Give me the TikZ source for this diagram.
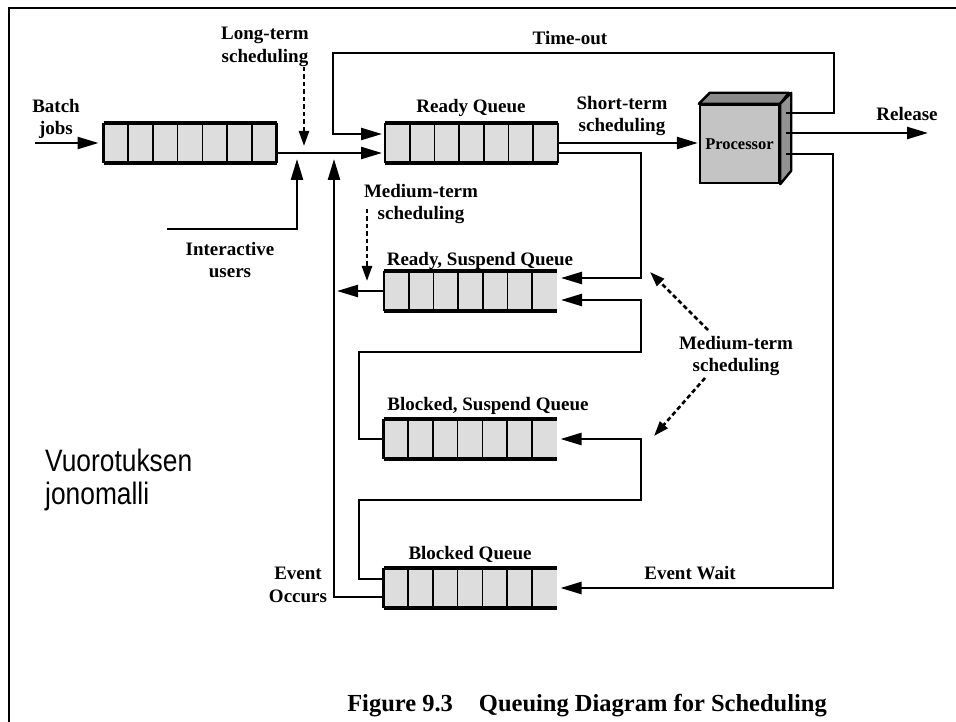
\documentclass[tikz,border=0pt]{standalone}
\usepackage{fontspec}
\setmainfont{Liberation Serif}
\newfontfamily\sansfnt{Liberation Sans}
\usetikzlibrary{arrows.meta,calc}
\definecolor{qfill}{RGB}{221,221,221}
\definecolor{pfront}{RGB}{196,196,196}
\definecolor{ptop}{RGB}{138,138,138}
\definecolor{pside}{RGB}{146,146,146}
\tikzset{
 lbl/.style={font=\bfseries\fontsize{19}{22.5}\selectfont, align=center, inner sep=0pt, anchor=north},
 conn/.style={line width=2.4pt},
 arr/.style={conn, -{Triangle[length=21pt,width=12pt]}},
 sched/.style={line width=2.6pt, dash pattern=on 4.5pt off 3pt, -{Triangle[length=15pt,width=10pt]}},
 queue/.style={minimum width=173pt, minimum height=40pt, inner sep=0pt, outer sep=0pt, fill=qfill, draw=none},
}
\newcommand\qbody[2]{%
 \foreach \i in {1,...,6}{\draw[line width=1.6pt] ($(#1.north west)!\i/7!(#1.north east)$) -- ($(#1.south west)!\i/7!(#1.south east)$);}
 \draw[line width=3.2pt] (#1.north west) -- (#1.north east);
 \draw[line width=3.2pt] (#1.south west) -- (#1.south east);
 \draw[line width=2.2pt] (#1.north west) -- (#1.south west);
 \ifnum#2=1 \draw[line width=2.2pt] (#1.north east) -- (#1.south east);\fi
}
\begin{document}
\begin{tikzpicture}[x=1pt,y=-1pt]
\useasboundingbox (0,0) rectangle (956,722);
\draw[line width=2.6pt] (9,722) -- (9,8) -- (956,8);

% queues
\node[queue] (bq) at (190,143) {};
\node[queue] (rq) at (471.5,143) {};
\node[queue] (rs) at (470.5,291) {};
\node[queue] (bs) at (470,439) {};
\node[queue] (bl) at (470,588) {};
\qbody{bq}{1}
\qbody{rq}{1}
\qbody{rs}{0}
\qbody{bs}{0}
\qbody{bl}{0}

% queue labels
\node[lbl] (rql) at (471,99) {Ready Queue};
\node[lbl] (rsl) at (480,252) {Ready, Suspend Queue};
\node[lbl] (bsl) at (488,397) {Blocked, Suspend Queue};
\node[lbl] (bll) at (470,546) {Blocked Queue};

% processor
\node[draw, line width=2.4pt, fill=pfront, minimum width=79pt, minimum height=78pt, inner sep=0pt,
      font=\bfseries\fontsize{16.5}{16}\selectfont] (cpu) at (739.5,144) {Processor};
\draw[line width=2.4pt, fill=ptop, line join=round] (cpu.north west) -- ++(11,-11) -- ++(79,0) -- (cpu.north east) -- cycle;
\draw[line width=2.4pt, fill=pside, line join=round] (cpu.north east) -- ++(11,-11) -- ++(0,78) -- (cpu.south east) -- cycle;

% other labels
\node[lbl] (batch) at (56,99) {Batch\\jobs};
\node[lbl] (ltl) at (265,27) {Long-term\\scheduling};
\node[lbl] (iul) at (230,242) {Interactive\\users};
\node[lbl] (tol) at (570,31) {Time-out};
\node[lbl] (stl) at (622,96) {Short-term\\scheduling};
\node[lbl] (mtl1) at (421,184) {Medium-term\\scheduling};
\node[lbl] (mtl2) at (736,336) {Medium-term\\scheduling};
\node[lbl] (rel) at (907,107) {Release};
\node[lbl] (ewl) at (690,566) {Event Wait};
\node[lbl] (eol) at (298,567) {Event\\Occurs};
\node[lbl, font=\bfseries\fontsize{24.5}{28}\selectfont] (cap) at (587,694) {Figure 9.3\hspace{26pt}Queuing Diagram for Scheduling};
\node[anchor=north west, inner sep=0pt, align=left, font=\sansfnt\fontsize{31}{33}\selectfont] (vj) at (45,449)
   {\scalebox{0.85}[1]{Vuorotuksen}\\\scalebox{0.85}[1]{jonomalli}};

% coordinates
\coordinate (bjin) at (35,143);
\coordinate (lt1) at (304,67);
\coordinate (lt2) at (304,146);
\coordinate (iu0) at (167,229);
\coordinate (iu1) at (297,159);
\coordinate (cpuA) at ([xshift=6pt,yshift=31pt]cpu.east);
\coordinate (cpuB) at ([xshift=6pt,yshift=11pt]cpu.east);
\coordinate (cpuC) at ([xshift=6pt,yshift=-10pt]cpu.east);
\coordinate (toR) at (834,53);
\coordinate (toL) at (333,53);
\coordinate (relT) at (928,133);
\coordinate (ewx) at (833,400);
\coordinate (rsIn1) at ([yshift=13pt]rs.east);
\coordinate (rsIn2) at ([yshift=-9pt]rs.east);
\coordinate (c1) at (641,278);
\coordinate (rsOut) at (337,291);
\coordinate (l1) at (359,352);
\coordinate (r1) at (641,352);
\coordinate (blOut) at ([yshift=9pt]bl.west);
\coordinate (l2) at (359,500);
\coordinate (r2) at (641,500);
\coordinate (eoOut) at ([yshift=-9pt]bl.west);
\coordinate (eoT) at (334,159);
\coordinate (mt1a) at (367,209);
\coordinate (mt1b) at (367,281);
\coordinate (mt2a) at (708,330);
\coordinate (mt2b) at (650,272);
\coordinate (mt3a) at (705,378);
\coordinate (mt3b) at (654,436);

% connectors
\draw[arr, shorten >=5pt] (bjin) -- (bq.west);
\draw[arr, shorten >=3pt] ([yshift=-10pt]bq.east) -- ([yshift=-10pt]rq.west);
\draw[sched] (lt1) -- (lt2);
\draw[arr] (iu0) -| (iu1);
\draw[arr, shorten >=3pt] (cpuA) -| (toR) -- (toL) |- ([yshift=9pt]rq.west);
\draw[arr, shorten >=1pt] (rq.east) -- (rq.east -| cpu.west);
\draw[arr] (cpuB) -- (relT);
\draw[arr, shorten >=4pt] (cpuC) -| (ewx) |- (bl.east);
\draw[arr, shorten >=4pt] ([yshift=-10pt]rq.east) -| (c1) -- (rsIn1);
\draw[arr] (rs.west) -- (rsOut);
\draw[arr, shorten >=4pt] (bs.west) -| (l1) -- (r1) |- (rsIn2);
\draw[arr, shorten >=4pt] (blOut) -| (l2) -- (r2) |- (bs.east);
\draw[arr] (eoOut) -| (eoT);
\draw[sched] (mt1a) -- (mt1b);
\draw[sched] (mt2a) -- (mt2b);
\draw[sched] (mt3a) -- (mt3b);
\end{tikzpicture}
\end{document}
